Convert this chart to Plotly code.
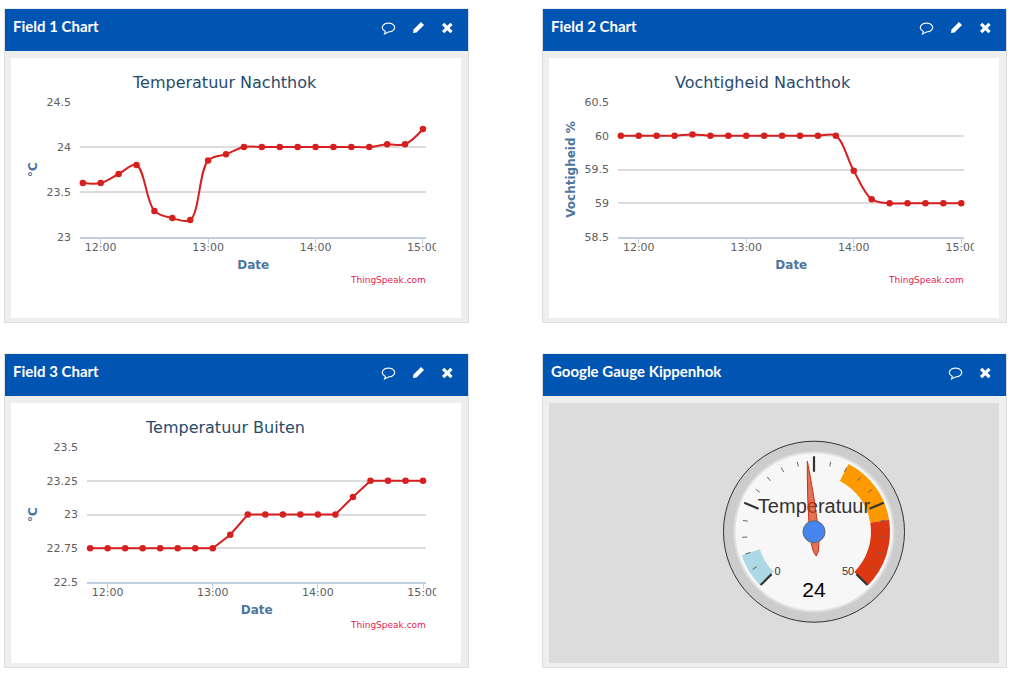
import math
import plotly.graph_objects as go

W = 1021
H = 687

TIMES = ["2016-01-01 " + t for t in [
    "11:50", "12:00", "12:10", "12:20", "12:30", "12:40", "12:50", "13:00", "13:10", "13:20",
    "13:30", "13:40", "13:50", "14:00", "14:10", "14:20", "14:30", "14:40", "14:50", "15:00"]]
X_TICKS = ["2016-01-01 12:00", "2016-01-01 13:00", "2016-01-01 14:00", "2016-01-01 15:00"]

TEMP_NACHTHOK = [23.6, 23.6, 23.7, 23.8, 23.29, 23.21, 23.19, 23.85, 23.92, 24,
                 24, 24, 24, 24, 24, 24, 24, 24.03, 24.03, 24.2]
VOCHT_NACHTHOK = [60, 60, 60, 60, 60.02, 60, 60, 60, 60, 60,
                  60, 60, 60, 59.48, 59.06, 59, 59, 59, 59, 59]
TEMP_BUITEN = [22.75, 22.75, 22.75, 22.75, 22.75, 22.75, 22.75, 22.75, 22.85, 23,
               23, 23, 23, 23, 23, 23.13, 23.25, 23.25, 23.25, 23.25]

Y_TICKS_1 = [23, 23.5, 24, 24.5]
Y_LABELS_1 = ["23", "23.5", "24", "24.5"]
Y_TICKS_2 = [58.5, 59, 59.5, 60, 60.5]
Y_LABELS_2 = ["58.5", "59", "59.5", "60", "60.5"]
Y_TICKS_3 = [22.5, 22.75, 23, 23.25, 23.5]
Y_LABELS_3 = ["22.5", "22.75", "23", "23.25", "23.5"]

GAUGE_VALUE = 24
GAUGE_MIN = 0
GAUGE_MAX = 50
GAUGE_BAND_FROM = [0, 30, 40]
GAUGE_BAND_TO = [5, 40, 50]
GAUGE_BAND_COLORS = ["#add8e6", "#ff9900", "#dc3912"]
GAUGE_MAJOR = [0, 12.5, 25, 37.5, 50]
GAUGE_MINOR = [2.5, 5, 7.5, 10, 15, 17.5, 20, 22.5, 27.5, 30, 32.5, 35, 40, 42.5, 45, 47.5]

BLUE = "#0055b2"
RED = "#d62020"
AXIS_BLUE = "#4d759e"
FONT = "DejaVu Sans"


def px(x):
    return x / W


def py(y):
    return 1 - y / H


def rect(x0, y0, x1, y1, fill, line=None, layer="below"):
    return dict(type="rect", xref="paper", yref="paper", layer=layer,
                x0=px(x0), x1=px(x1), y0=py(y0), y1=py(y1), fillcolor=fill,
                line=dict(color=line or fill, width=1 if line else 0))


def circle(cx, cy, r, fill, line=None):
    return dict(type="circle", xref="paper", yref="paper", layer="below",
                x0=px(cx - r), x1=px(cx + r), y0=py(cy + r), y1=py(cy - r), fillcolor=fill,
                line=dict(color=line or fill, width=1 if line else 0))


def path(points, fill=None, line=None, width=1.5, close=False):
    d = "M" + " L".join("%.5f,%.5f" % (px(x), py(y)) for x, y in points)
    if close:
        d += " Z"
    return dict(type="path", xref="paper", yref="paper", layer="above", path=d,
                fillcolor=fill or "rgba(0,0,0,0)",
                line=dict(color=line or "rgba(0,0,0,0)", width=width))


def bubble(cx, cy):
    pts = [(cx + 6.3 * math.cos(a / 12 * 2 * math.pi), cy + 4.5 * math.sin(a / 12 * 2 * math.pi))
           for a in range(2, 14)]
    pts = pts[:2] + [(cx - 4, cy + 6.5)] + pts[2:]
    return path(pts, line="white", width=1.1, close=True)


def pencil(cx, cy):
    return path([(cx - 5.5, cy + 5.5), (cx - 5, cy + 2), (cx + 2.5, cy - 5.5), (cx + 5.5, cy - 2.5),
                 (cx - 2, cy + 5)], fill="white", close=True)


def cross(cx, cy):
    return [path([(cx - 4.2, cy - 4.2), (cx + 4.2, cy + 4.2)], line="white", width=3.2),
            path([(cx - 4.2, cy + 4.2), (cx + 4.2, cy - 4.2)], line="white", width=3.2)]


shapes = []
annotations = []


def panel(dx, dy, header, icons=True, inner="white"):
    shapes.append(rect(4.5 + dx, 9 + dy, 468.5 + dx, 322.5 + dy, "#eeeeee", "#dddddd"))
    shapes.append(rect(5 + dx, 9 + dy, 468 + dx, 51 + dy, BLUE))
    shapes.append(rect(11 + dx, 58 + dy, 461 + dx, 318 + dy, inner))
    annotations.append(dict(text=header, xref="paper", yref="paper", x=px(11 + dx), y=py(26 + dy),
                            xanchor="left", yanchor="middle", showarrow=False,
                            font=dict(family="Lato", size=15, color="white", weight="bold")))
    if icons:
        shapes.append(bubble(388.5 + dx, 27.5 + dy))
        shapes.append(pencil(418.5 + dx, 27.5 + dy))
        shapes.extend(cross(447.3 + dx, 28 + dy))
    else:
        shapes.append(bubble(955.5, 27.5 + dy))
        shapes.extend(cross(985.3, 28 + dy))


fig = go.Figure()
axis_layout = {}


def chart(n, dx, dy, left, right, x_from, title, title_x, ytitle, standoff, values, y_ticks, y_labels, shape):
    suffix = "" if n == 1 else str(n)
    fig.add_trace(go.Scatter(
        x=TIMES, y=values, mode="lines+markers", xaxis="x" + suffix, yaxis="y" + suffix,
        line=dict(color=RED, width=2, shape=shape), marker=dict(color=RED, size=6.5),
        cliponaxis=False, showlegend=False))
    axis_layout["xaxis" + suffix] = dict(
        domain=[px(left), px(right)], anchor="y" + suffix, type="date", automargin=False,
        range=[x_from, "2016-01-01 15:01:42"], tickvals=X_TICKS, tickformat="%H:%M",
        ticks="outside", ticklen=5, tickcolor="#c0d0e0", showgrid=False, ticklabelstandoff=-6,
        showline=True, linecolor="#c0d0e0", linewidth=2,
        tickfont=dict(family=FONT, size=11, color="#606060"),
        title=dict(text="Date", standoff=7, font=dict(family=FONT, size=12, color=AXIS_BLUE, weight="bold")))
    axis_layout["yaxis" + suffix] = dict(
        domain=[py(237 + dy), py(102 + dy)], anchor="x" + suffix, automargin=False,
        range=[y_ticks[0], y_ticks[-1]], tickvals=y_ticks, ticktext=y_labels,
        ticks="outside", ticklen=6, tickcolor="rgba(0,0,0,0)", zeroline=False,
        showgrid=True, gridcolor="#dcdcdc", gridwidth=2, showline=False,
        tickfont=dict(family=FONT, size=11, color="#606060"),
        title=dict(text=ytitle, standoff=standoff, font=dict(family=FONT, size=12, color=AXIS_BLUE, weight="bold")))
    annotations.append(dict(text=title, xref="paper", yref="paper", x=px(title_x + dx), y=py(82.5 + dy),
                            xanchor="center", yanchor="middle", showarrow=False,
                            font=dict(family=FONT, size=16, color="#274b6d")))
    annotations.append(dict(text="ThingSpeak.com", xref="paper", yref="paper", x=px(428 + dx), y=py(280 + dy),
                            xanchor="right", yanchor="middle", showarrow=False,
                            font=dict(family=FONT, size=9, color="#e6194f")))
    # the original iframe cuts off the last tick label
    shapes.append(rect(436 + dx, 240 + dy, 461 + dx, 256 + dy, "white", layer="above"))


panel(0, 0, "Field 1 Chart")
panel(538, 0, "Field 2 Chart")
panel(0, 345, "Field 3 Chart")
panel(538, 345, "Google Gauge Kippenhok", icons=False, inner="#dcdcdc")

chart(1, 0, 0, 80.3, 426, "2016-01-01 11:48:36", "Temperatuur Nachthok", 224.7, "°C", 6,
      TEMP_NACHTHOK, Y_TICKS_1, Y_LABELS_1, "spline")
chart(2, 538, 0, 618.3, 964.3, "2016-01-01 11:48:36", "Vochtigheid Nachthok", 225, "Vochtigheid %", 6,
      VOCHT_NACHTHOK, Y_TICKS_2, Y_LABELS_2, "spline")
chart(3, 0, 345, 87.3, 426, "2016-01-01 11:48:24", "Temperatuur Buiten", 224.5, "°C", 6,
      TEMP_BUITEN, Y_TICKS_3, Y_LABELS_3, "linear")

# gauge: polar subplot, radial unit is one pixel
CX = 814
CY = 531.7
R = 90


def angle(v):
    return (v - (GAUGE_MIN + GAUGE_MAX) / 2) * 270 / (GAUGE_MAX - GAUGE_MIN)


shapes.append(circle(CX, CY, 90.5, "#cccccc", "#333333"))
shapes.append(circle(CX, CY, 80.5, "#e0e0e0"))
shapes.append(circle(CX, CY, 78.5, "#f7f7f7"))

fig.add_trace(go.Barpolar(
    theta=[angle((a + b) / 2) for a, b in zip(GAUGE_BAND_FROM, GAUGE_BAND_TO)],
    width=[angle(b) - angle(a) for a, b in zip(GAUGE_BAND_FROM, GAUGE_BAND_TO)],
    r=[19, 19, 19], base=[57, 57, 57], marker=dict(color=GAUGE_BAND_COLORS, line=dict(width=0)),
    showlegend=False))


def tick_trace(ticks, r0, r1, color, width):
    theta = []
    r = []
    for t in ticks:
        theta += [angle(t), angle(t), None]
        r += [r0, r1, None]
    return go.Scatterpolar(theta=theta, r=r, mode="lines", line=dict(color=color, width=width), showlegend=False)


fig.add_trace(tick_trace(GAUGE_MINOR, 67, 72, "#666666", 1))
fig.add_trace(tick_trace(GAUGE_MAJOR, 60, 75.5, "#333333", 2.2))

fig.add_trace(go.Scatterpolar(
    theta=[0], r=[23.7], mode="text", text=["Temperatuur"], textposition="middle center",
    textfont=dict(family="Liberation Sans", size=20, color="#333333"), showlegend=False))
fig.add_trace(go.Scatterpolar(
    theta=[angle(GAUGE_MIN) - 3, angle(GAUGE_MAX) + 5], r=[54.5, 53], mode="text",
    text=[str(GAUGE_MIN), str(GAUGE_MAX)], textposition="middle center",
    textfont=dict(family="Liberation Sans", size=11, color="#333333"), showlegend=False))
fig.add_trace(go.Scatterpolar(
    theta=[180], r=[60.5], mode="text", text=[str(GAUGE_VALUE)], textposition="middle center",
    textfont=dict(family="Liberation Sans", size=21, color="#000000"), showlegend=False))

# needle outline: distance along the needle, half width
needle_len = [71, 55, 35, 15, 0, -12, -20, -24.5, -20, -12, 0, 15, 35, 55, 71]
needle_wid = [0, 1.5, 3.0, 4.0, 4.5, 3.8, 2.4, 0, -2.4, -3.8, -4.5, -4.0, -3.0, -1.5, 0]
fig.add_trace(go.Scatterpolar(
    theta=[angle(GAUGE_VALUE) + math.degrees(math.atan2(w, s)) for s, w in zip(needle_len, needle_wid)],
    r=[math.hypot(s, w) for s, w in zip(needle_len, needle_wid)],
    mode="lines", fill="toself", fillcolor="rgba(220,57,18,0.7)",
    line=dict(color="#c63310", width=1), showlegend=False))
fig.add_trace(go.Scatterpolar(
    theta=[0], r=[0], mode="markers",
    marker=dict(color="#4684ee", size=22, line=dict(color="#666666", width=1)), showlegend=False))

fig.update_layout(
    width=W, height=H, autosize=False, margin=dict(l=0, r=0, t=0, b=0),
    paper_bgcolor="white", plot_bgcolor="white", showlegend=False,
    shapes=shapes, annotations=annotations,
    polar=dict(
        domain=dict(x=[px(CX - R), px(CX + R)], y=[py(CY + R), py(CY - R)]),
        bgcolor="rgba(0,0,0,0)",
        radialaxis=dict(visible=False, range=[0, R]),
        angularaxis=dict(visible=False, rotation=90, direction="clockwise", thetaunit="degrees")),
    **axis_layout)

fig.write_html("out.html", config=dict(displayModeBar=False),
               post_script="document.body.style.margin='0';")
